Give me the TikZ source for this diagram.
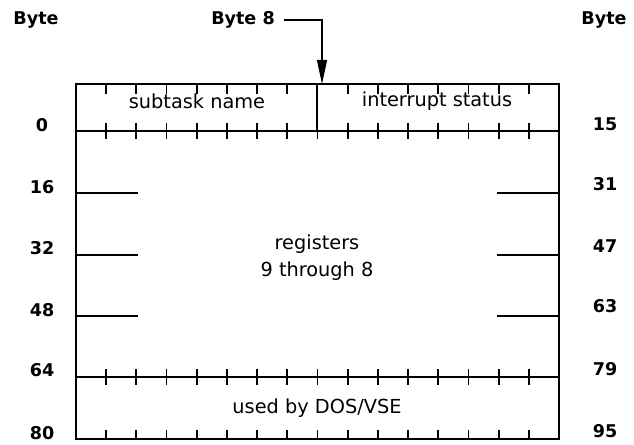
\documentclass[tikz,border=0pt]{standalone}
\usepackage{fontspec}
\setmainfont{DejaVu Sans}
\usetikzlibrary{arrows.meta}
\begin{document}
\begin{tikzpicture}[x=0.02cm, y=-0.02cm,
    lbl/.style={font=\bfseries\fontsize{10}{11}\selectfont, inner sep=0pt},
    field/.style={font=\fontsize{11}{15.3}\selectfont, inner sep=0pt, align=center},
    frame/.style={line width=1.1pt},
    tick/.style={line width=1pt},
  ]
    \useasboundingbox (0,0) rectangle (634,445);

    % outline of the area
    \draw[frame] (76,84) rectangle (559,439);
    \draw[frame] (76,131) -- (559,131);
    \draw[frame] (76,377) -- (559,377);
    \draw[frame] (317,84) -- (317,131);
    \foreach \y in {193,255,316} {
      \draw[frame] (76,\y) -- (138,\y);
      \draw[frame] (497,\y) -- (559,\y);
    }

    % byte ticks
    \foreach \k in {1,...,15} {
      \pgfmathsetmacro\tx{76+\k*30.1875}
      \ifnum\k=8\else
        \draw[tick] (\tx,84) -- (\tx,94);
      \fi
      \draw[tick] (\tx,123) -- (\tx,139);
      \draw[tick] (\tx,369) -- (\tx,385);
      \draw[tick] (\tx,430) -- (\tx,439);
    }

    \node[lbl] (byteL) at (36,20)  {Byte};
    \node[lbl] (byte8) at (243,20) {Byte 8};
    \node[lbl] (byteR) at (604,20) {Byte};
    \coordinate (b8tip) at (322,84);
    \draw[line width=0.7pt, -{Triangle[length=0.48cm, width=0.2cm]}]
      ([xshift=5pt]byte8.east) -| (b8tip);

    \node[lbl] (l0)  at (42,125) {0};
    \node[lbl] (l16) at (42,187) {16};
    \node[lbl] (l32) at (42,248) {32};
    \node[lbl] (l48) at (42,310) {48};
    \node[lbl] (l64) at (42,370) {64};
    \node[lbl] (l80) at (42,433) {80};
    \node[lbl] (r15) at (605,124) {15};
    \node[lbl] (r31) at (605,184) {31};
    \node[lbl] (r47) at (605,246) {47};
    \node[lbl] (r63) at (605,306) {63};
    \node[lbl] (r79) at (605,369) {79};
    \node[lbl] (r95) at (605,431) {95};

    \node[field] (name) at (197,101) {subtask name};
    \node[field] (intr) at (437,101) {interrupt status};
    \node[field] (regs) at (317,258) {registers\\9 through 8};
    \node[field] (dos)  at (317,408) {used by DOS/VSE};
\end{tikzpicture}
\end{document}
